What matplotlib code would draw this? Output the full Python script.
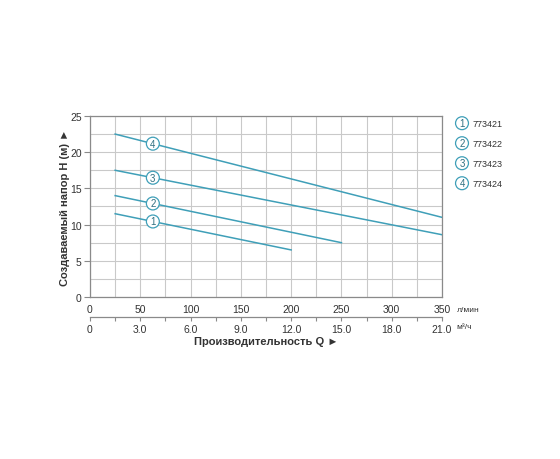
import numpy as np
import matplotlib.pyplot as plt

plt.rcParams['font.family'] = ['Liberation Sans', 'DejaVu Sans']

# curves: straight lines from start to end point (l/min, m)
models = ["773421", "773422", "773423", "773424"]
q_start = [25, 25, 25, 25]
q_end = [200, 250, 350, 350]
h_start = [11.5, 14.0, 17.5, 22.5]
h_end = [6.5, 7.5, 8.6, 11.0]
q_mark = 62.5

x_ticks = [0, 50, 100, 150, 200, 250, 300, 350]
m3_labels = ["0", "3.0", "6.0", "9.0", "12.0", "15.0", "18.0", "21.0"]
y_ticks = [0, 5, 10, 15, 20, 25]

line_c = "#3f9fb8"
grid_c = "#c9c9c9"
spine_c = "#8a8a8a"
txt_c = "#333333"

fig = plt.figure(figsize=(5.6, 4.6), dpi=100)
left, bottom, width, height = 0.1607, 0.3522, 0.6286, 0.3935
ax = fig.add_axes([left, bottom, width, height])

for i in range(len(models)):
    ax.plot([q_start[i], q_end[i]], [h_start[i], h_end[i]], color=line_c, lw=1.1, zorder=3)
    hm = np.interp(q_mark, [q_start[i], q_end[i]], [h_start[i], h_end[i]])
    ax.text(q_mark, hm, str(i + 1), ha='center', va='center', fontsize=7, color="#2f6f80",
            zorder=4, bbox=dict(boxstyle='circle,pad=0.15', fc='white', ec=line_c, lw=0.9))

ax.set_xlim(0, 350)
ax.set_ylim(0, 25)
ax.set_xticks(np.arange(0, 351, 25), minor=True)
ax.set_yticks(np.arange(0, 25.1, 2.5), minor=True)
ax.set_xticks(x_ticks)
ax.set_yticks(y_ticks)
ax.grid(which='both', color=grid_c, lw=0.8)
ax.set_axisbelow(True)
ax.tick_params(axis='x', which='both', length=0, labelsize=7.5, pad=5, colors=txt_c)
ax.tick_params(axis='y', which='major', length=4, width=0.8, color=spine_c, labelsize=7.5, pad=2, labelcolor=txt_c)
ax.tick_params(axis='y', which='minor', length=0)
for s in ax.spines.values():
    s.set_color(spine_c)
    s.set_linewidth(0.9)
ax.set_ylabel("Создаваемый напор H (м) ►", fontsize=8, fontweight='bold', color=txt_c, labelpad=0)

# second scale in m3/h
ax2 = fig.add_axes([left, 0.3093, width, 0.0001])
ax2.set_xlim(0, 350)
ax2.set_ylim(0, 1)
ax2.set_yticks([])
for k in ['top', 'left', 'right']:
    ax2.spines[k].set_visible(False)
ax2.spines['bottom'].set_color(spine_c)
ax2.spines['bottom'].set_linewidth(0.9)
ax2.set_xticks(x_ticks)
ax2.set_xticklabels(m3_labels)
ax2.set_xticks(np.arange(0, 351, 25), minor=True)
ax2.tick_params(axis='x', which='both', length=3, width=0.8, color=spine_c, labelsize=7.5, pad=2, labelcolor=txt_c)
ax2.set_xlabel("Производительность Q ►", fontsize=8, fontweight='bold', color=txt_c, labelpad=2)

fig.text(0.815, 0.325, "л/мин", fontsize=6, color=txt_c, va='center')
fig.text(0.815, 0.288, "м³/ч", fontsize=6, color=txt_c, va='center')

# legend
for i, m in enumerate(models):
    y = 0.730 - i * 0.0435
    fig.text(0.825, y, str(i + 1), ha='center', va='center', fontsize=7, color="#2f6f80",
             bbox=dict(boxstyle='circle,pad=0.15', fc='white', ec=line_c, lw=0.9))
    fig.text(0.843, y, m, ha='left', va='center', fontsize=6.5, color=txt_c)

fig.savefig("out.png", dpi=100)
